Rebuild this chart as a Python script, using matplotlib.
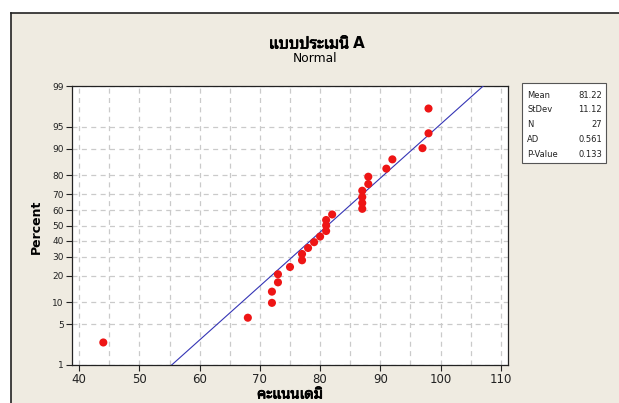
import math
import numpy as np
import matplotlib
matplotlib.use('Agg')
import matplotlib.pyplot as plt
import matplotlib.patheffects as pe
from matplotlib.patches import Rectangle
from matplotlib.lines import Line2D

# scores (sorted), Minitab stats from the legend box
scores = np.array([44, 68, 72, 72, 73, 73, 75, 77, 77, 78, 79, 80, 81, 81,
                   81, 82, 87, 87, 87, 87, 88, 88, 91, 92, 97, 98, 98])
mean = 81.22
stdev = 11.12
stat_names = ['Mean', 'StDev', 'N', 'AD', 'P-Value']
stat_values = ['81.22', '11.12', '27', '0.561', '0.133']
x_ticks = [40, 50, 60, 70, 80, 90, 100, 110]
y_ticks = [1, 5, 10, 20, 30, 40, 50, 60, 70, 80, 90, 95, 99]

title_thai = 'แบบประเมนิ'
title_tail = 'A'
subtitle = 'Normal'
xlabel = 'คะแนนเดมิ'
ylabel = 'Percent'

plt.rcParams['font.family'] = ['DejaVu Sans', 'Noto Sans Thai Looped']

BEIGE = '#EFEBE1'
GRID = '#CACACA'
W, H = 619, 403


def ppf(p):
    # Acklam's approximation of the inverse normal cdf
    p = np.clip(np.asarray(p, dtype=float), 1e-9, 1 - 1e-9)
    a = [-3.969683028665376e+01, 2.209460984245205e+02, -2.759285104469687e+02,
         1.383577518672690e+02, -3.066479806614716e+01, 2.506628277459239e+00]
    b = [-5.447609879822406e+01, 1.615858368580409e+02, -1.556989798598866e+02,
         6.680131188771972e+01, -1.328068155288572e+01]
    c = [-7.784894002430293e-03, -3.223964580411365e-01, -2.400758277161838e+00,
         -2.549732539343734e+00, 4.374664141464968e+00, 2.938163982698783e+00]
    d = [7.784695709041462e-03, 3.224671290700398e-01, 2.445134137142996e+00,
         3.754408661907416e+00]
    lo = 0.02425
    out = np.empty_like(p)
    m1 = p < lo
    m3 = p > 1 - lo
    m2 = ~(m1 | m3)
    q = np.sqrt(-2 * np.log(p[m1]))
    out[m1] = (((((c[0]*q+c[1])*q+c[2])*q+c[3])*q+c[4])*q+c[5]) / \
              ((((d[0]*q+d[1])*q+d[2])*q+d[3])*q+1)
    q = p[m2] - 0.5
    r = q*q
    out[m2] = (((((a[0]*r+a[1])*r+a[2])*r+a[3])*r+a[4])*r+a[5])*q / \
              (((((b[0]*r+b[1])*r+b[2])*r+b[3])*r+b[4])*r+1)
    q = np.sqrt(-2 * np.log(1 - p[m3]))
    out[m3] = -(((((c[0]*q+c[1])*q+c[2])*q+c[3])*q+c[4])*q+c[5]) / \
               ((((d[0]*q+d[1])*q+d[2])*q+d[3])*q+1)
    return out


erf = np.vectorize(math.erf)


def fwd(pct):
    return ppf(np.asarray(pct, dtype=float) / 100.0)


def inv(z):
    return 50.0 * (1 + erf(np.asarray(z, dtype=float) / math.sqrt(2)))


n = len(scores)
pct = (np.arange(1, n + 1) - 0.3) / (n + 0.4) * 100

fig = plt.figure(figsize=(W / 100, H / 100), dpi=100, facecolor='white')
fig.add_artist(Rectangle((11 / W, 0), 1, 1 - 13 / H, transform=fig.transFigure,
                         facecolor=BEIGE, edgecolor='none', zorder=-10))
fig.add_artist(Line2D([11 / W, 1], [1 - 13 / H, 1 - 13 / H], transform=fig.transFigure,
                      color='#222222', lw=1.2))
fig.add_artist(Line2D([11 / W, 11 / W], [0, 1 - 13 / H], transform=fig.transFigure,
                      color='#222222', lw=1.2))

ax = fig.add_axes([72 / W, 1 - 365 / H, 436 / W, 279 / H])
ax.set_facecolor('white')
ax.set_yscale('function', functions=(fwd, inv))

# fitted normal line
line_pct = np.linspace(1, 99, 200)
line_x = mean + stdev * ppf(line_pct / 100)
ax.plot(line_x, line_pct, color='#3535B5', lw=0.8, zorder=3)
ax.scatter(scores, pct, s=34, color='#EE1515', edgecolor='none', zorder=4)

ax.set_xlim(38.8, 111.2)
ax.set_ylim(1, 99)
ax.set_xticks(x_ticks)
ax.set_xticks(np.arange(40, 111, 5), minor=True)
ax.set_yticks(y_ticks)
ax.set_yticklabels([str(t) for t in y_ticks])
ax.yaxis.set_minor_locator(matplotlib.ticker.NullLocator())
ax.grid(which='both', axis='x', color=GRID, linestyle=(0, (4, 3.5)), lw=0.9)
ax.grid(which='major', axis='y', color=GRID, linestyle=(0, (4, 3.5)), lw=0.9)
ax.set_axisbelow(True)
ax.tick_params(axis='x', which='major', labelsize=8.5, length=4, width=0.8, pad=2, colors='#222222')
ax.tick_params(axis='x', which='minor', length=0)
ax.tick_params(axis='y', labelsize=6.5, length=4, width=0.8, pad=2, colors='#222222')
for s in ax.spines.values():
    s.set_color('#222222')
    s.set_linewidth(0.9)

# Thai font has no bold face here, so thicken it with a stroke
thick = [pe.withStroke(linewidth=0.6, foreground='black')]
fig.text(349 / W, 1 - 44 / H, title_thai, ha='right', va='center', fontsize=11.5,
         path_effects=thick)
fig.text(353 / W, 1 - 44 / H, title_tail, ha='left', va='center', fontsize=11,
         fontweight='bold')
fig.text(315 / W, 1 - 59 / H, subtitle, ha='center', va='center', fontsize=8.8)
fig.text(36 / W, 1 - 227 / H, ylabel, ha='center', va='center', rotation=90,
         fontsize=9, fontweight='bold')
fig.text(290 / W, 1 - 394 / H, xlabel, ha='center', va='center', fontsize=10.5,
         path_effects=thick)

# statistics box
fig.add_artist(Rectangle((522 / W, 1 - 163 / H), 84 / W, 80 / H, transform=fig.transFigure,
                         facecolor='white', edgecolor='#555555', lw=0.8))
for i, (name, val) in enumerate(zip(stat_names, stat_values)):
    yy = 1 - (95 + i * 14.8) / H
    fig.text(527 / W, yy, name, ha='left', va='center', fontsize=6, color='#222222')
    fig.text(602 / W, yy, val, ha='right', va='center', fontsize=6, color='#222222')

fig.savefig('out.png', dpi=100, facecolor=fig.get_facecolor())
